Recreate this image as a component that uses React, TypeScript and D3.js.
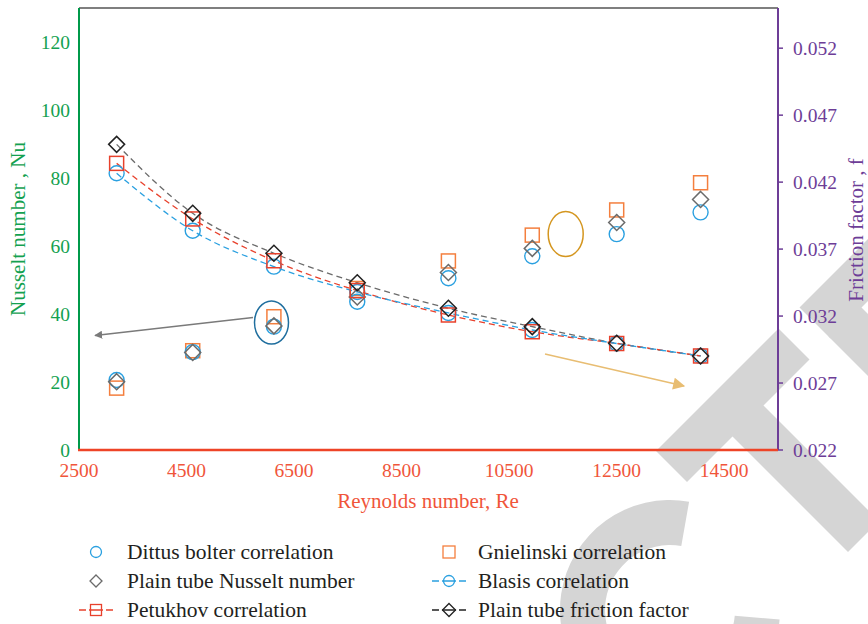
import React from "react";
import * as d3 from "d3";

// Reynolds numbers of the test runs
const reynolds = [3200, 4615, 6125, 7675, 9370, 10930, 12500, 14060];

// Nusselt number (left axis)
const dittusNu = [20.6, 28.8, 36.3, 43.6, 50.5, 57.0, 63.5, 69.9];
const gnielinskiNu = [18.2, 29.2, 39.2, 47.5, 55.6, 63.2, 70.6, 78.6];
const plainTubeNu = [20.1, 28.7, 36.5, 45.0, 52.2, 59.3, 66.9, 73.7];

// Friction factor (right axis)
const blasisF = [0.04266, 0.03837, 0.03569, 0.0338, 0.03223, 0.03096, 0.02995, 0.02902];
const petukhovF = [0.0434, 0.03925, 0.03613, 0.0339, 0.03208, 0.03083, 0.02995, 0.02902];
const plainTubeF = [0.04482, 0.03967, 0.03669, 0.03449, 0.03258, 0.03121, 0.02997, 0.02902];

// Axis ticks
const reTicks = [2500, 4500, 6500, 8500, 10500, 12500, 14500];
const nuTicks = [0, 20, 40, 60, 80, 100, 120];
const fTicks = [0.022, 0.027, 0.032, 0.037, 0.042, 0.047, 0.052];

const legendLeft = ["Dittus bolter correlation", "Plain tube Nusselt number", "Petukhov correlation"];
const legendRight = ["Gnielinski correlation", "Blasis correlation", "Plain tube friction factor"];

const C = {
  blue: "#2aa0e0",
  orange: "#f47f3e",
  grey: "#6b6b6b",
  red: "#e8412c",
  black: "#222222",
  green: "#14a150",
  greenAxis: "#00994a",
  axisRed: "#ee4427",
  tickRed: "#f0553a",
  purple: "#6d3d97",
  text: "#231f20",
  stamp: "#d5d5d5",
};

const FONT = "'Liberation Serif', 'Times New Roman', serif";

const left = 79, right = 778, top = 8, bottom = 450;
const x = d3.scaleLinear().domain([2500, 15500]).range([left, right]);
const yNu = d3.scaleLinear().domain([0, 130]).range([bottom, top]);
const yF = d3.scaleLinear().domain([0.022, 0.055]).range([bottom, top]);

function Circle({ cx, cy, r = 7.5, color, sw = 1.4 }) {
  return <circle cx={cx} cy={cy} r={r} fill="none" stroke={color} strokeWidth={sw} />;
}
function Square({ cx, cy, s = 14, color, sw = 1.5 }) {
  return <rect x={cx - s / 2} y={cy - s / 2} width={s} height={s} fill="none" stroke={color} strokeWidth={sw} />;
}
function Diamond({ cx, cy, s = 8, color, sw = 1.5 }) {
  const p = `M${cx},${cy - s}L${cx + s},${cy}L${cx},${cy + s}L${cx - s},${cy}Z`;
  return <path d={p} fill="none" stroke={color} strokeWidth={sw} />;
}

// short dash – marker – short dash legend key
function LegendLine({ cx, cy, color }) {
  return (
    <line x1={cx - 17} x2={cx + 17} y1={cy} y2={cy} stroke={color} strokeWidth={1.3} strokeDasharray="7,3,14,3,7" />
  );
}

// Diagonal stamp letters, described in (c = x + y, d = x - y) coordinates
const cd = (c: number, d: number) => [(c + d) / 2, (c - d) / 2];
const band = (c0: number, c1: number, d0: number, d1: number) =>
  "M" + [cd(c0, d0), cd(c0, d1), cd(c1, d1), cd(c1, d0)].map((p) => p.join(",")).join("L") + "Z";

function Stamp() {
  // d3.arc angles: 0 at 12 o'clock, clockwise
  const arc = d3
    .arc()
    .innerRadius(65)
    .outerRadius(110)
    .startAngle((95 * Math.PI) / 180)
    .endAngle((370 * Math.PI) / 180);
  return (
    <g fill={C.stamp}>
      {/* C */}
      <path d={arc(null as any) as string} transform="translate(670,610)" />
      {/* T: crossbar and stem */}
      <path d={band(1107, 1169, 205, 450)} />
      <path d={band(1165, 1400, 296, 358)} />
      {/* E: top arm and spine */}
      <path d={band(1107, 1169, 492, 700)} />
      <path d={band(1165, 1260, 492, 554)} />
    </g>
  );
}

export default function App() {
  const trend = (vals: number[]) =>
    d3
      .line<number>()
      .x((_, i) => x(reynolds[i]))
      .y((v) => yF(v))
      .curve(d3.curveMonotoneX)(vals) as string;

  const fmtF = d3.format(".3f");

  const legendRowY = [552, 581, 610];
  const lx1 = 96, tx1 = 127, lx2 = 449, tx2 = 478;

  return (
    <svg width={868} height={624} style={{ position: "absolute", left: 0, top: 0, background: "#fff" }} fontFamily={FONT}>
      <defs>
        <marker id="arrGrey" viewBox="0 0 10 10" refX="9" refY="5" markerWidth="8" markerHeight="8" orient="auto" markerUnits="userSpaceOnUse">
          <path d="M0,0L10,5L0,10Z" fill="#7a7a7a" />
        </marker>
        <marker id="arrGold" viewBox="0 0 10 10" refX="9" refY="5" markerWidth="14" markerHeight="12" orient="auto" markerUnits="userSpaceOnUse">
          <path d="M0,0L10,5L0,10Z" fill="#e8bd72" />
        </marker>
      </defs>

      <Stamp />

      {/* frame top */}
      <line x1={left} x2={right} y1={top} y2={top} stroke="#555" strokeWidth={1.5} />

      {/* friction trend lines */}
      <path d={trend(plainTubeF)} fill="none" stroke="#6b6b6b" strokeWidth={1.3} strokeDasharray="6,4" />
      <path d={trend(petukhovF)} fill="none" stroke={C.red} strokeWidth={1.3} strokeDasharray="6,4" />
      <path d={trend(blasisF)} fill="none" stroke={C.blue} strokeWidth={1.3} strokeDasharray="6,4" />

      {/* Nusselt markers */}
      {reynolds.map((r, i) => (
        <g key={"nu" + i}>
          <Square cx={x(r)} cy={yNu(gnielinskiNu[i])} color={C.orange} />
          <Circle cx={x(r)} cy={yNu(dittusNu[i])} color={C.blue} />
          <Diamond cx={x(r)} cy={yNu(plainTubeNu[i])} color={C.grey} />
        </g>
      ))}

      {/* friction markers */}
      {reynolds.map((r, i) => (
        <g key={"f" + i}>
          <Circle cx={x(r)} cy={yF(blasisF[i])} color={C.blue} />
          <Square cx={x(r)} cy={yF(petukhovF[i])} color={C.red} />
          <Diamond cx={x(r)} cy={yF(plainTubeF[i])} color={C.black} />
        </g>
      ))}

      {/* annotations */}
      <ellipse cx={271.5} cy={322.5} rx={17} ry={21.5} fill="none" stroke="#1f6e9e" strokeWidth={1.5} />
      <line x1={253} x2={95} y1={317.5} y2={335.5} stroke="#7a7a7a" strokeWidth={1.5} markerEnd="url(#arrGrey)" />
      <ellipse cx={565.7} cy={234} rx={17.5} ry={22.5} fill="none" stroke="#d4961f" strokeWidth={1.5} />
      <line x1={545} x2={684} y1={354} y2={386} stroke="#e8bd72" strokeWidth={1.5} markerEnd="url(#arrGold)" />

      {/* left axis */}
      <line x1={left} x2={left} y1={top} y2={bottom} stroke={C.greenAxis} strokeWidth={2} />
      {nuTicks.map((t) => (
        <text key={t} x={70} y={yNu(t)} dy="0.34em" textAnchor="end" fill={C.green} fontSize={19.5}>
          {t}
        </text>
      ))}
      <text transform={`translate(18,229) rotate(-90)`} textAnchor="middle" dominantBaseline="central" fill={C.green} fontSize={21}>
        Nusselt number , Nu
      </text>

      {/* right axis */}
      <line x1={right} x2={right} y1={top} y2={bottom} stroke={C.purple} strokeWidth={2} />
      {fTicks.map((t) => (
        <g key={t}>
          <line x1={right} x2={right + 5} y1={yF(t)} y2={yF(t)} stroke={C.purple} strokeWidth={1.5} />
          <text x={793} y={yF(t)} dy="0.34em" fill={C.purple} fontSize={19.5}>
            {fmtF(t)}
          </text>
        </g>
      ))}
      <text transform={`translate(856,230) rotate(-90)`} textAnchor="middle" dominantBaseline="central" fill={C.purple} fontSize={21}>
        Friction factor , f
      </text>

      {/* bottom axis */}
      <line x1={left - 1} x2={right} y1={bottom} y2={bottom} stroke={C.axisRed} strokeWidth={2.5} />
      {reTicks.map((t) => (
        <text key={t} x={x(t)} y={477} textAnchor="middle" fill={C.tickRed} fontSize={19.5}>
          {t}
        </text>
      ))}
      <text x={428} y={508} textAnchor="middle" fill={C.tickRed} fontSize={21}>
        Reynolds number, Re
      </text>

      {/* legend */}
      <g fontSize={21.5} fill={C.text}>
        <Circle cx={lx1} cy={legendRowY[0]} r={5.5} color={C.blue} sw={1.3} />
        <Diamond cx={lx1} cy={legendRowY[1]} s={6} color={C.grey} sw={1.3} />
        <LegendLine cx={lx1} cy={legendRowY[2]} color={C.red} />
        <Square cx={lx1} cy={legendRowY[2]} s={11} color={C.red} sw={1.3} />
        {legendLeft.map((t, i) => (
          <text key={t} x={tx1} y={legendRowY[i]} dy="0.34em">
            {t}
          </text>
        ))}

        <Square cx={lx2} cy={legendRowY[0]} s={12} color={C.orange} sw={1.3} />
        <LegendLine cx={lx2} cy={legendRowY[1]} color={C.blue} />
        <Circle cx={lx2} cy={legendRowY[1]} r={5.5} color={C.blue} sw={1.3} />
        <LegendLine cx={lx2} cy={legendRowY[2]} color={C.black} />
        <Diamond cx={lx2} cy={legendRowY[2]} s={6.5} color={C.black} sw={1.3} />
        {legendRight.map((t, i) => (
          <text key={t} x={tx2} y={legendRowY[i]} dy="0.34em">
            {t}
          </text>
        ))}
      </g>
    </svg>
  );
}
